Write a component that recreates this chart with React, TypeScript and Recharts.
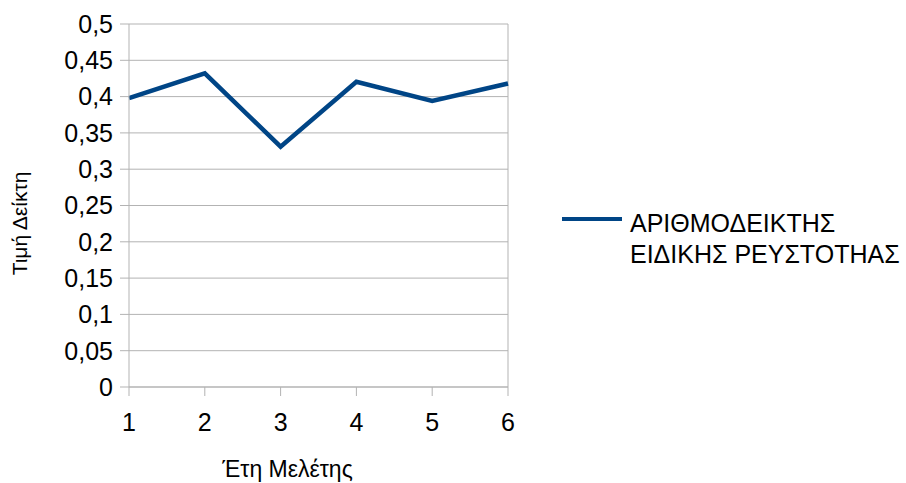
import React from "react";
import {
  LineChart,
  Line,
  XAxis,
  YAxis,
  CartesianGrid,
  ReferenceLine,
} from "recharts";

const years = [1, 2, 3, 4, 5, 6];
const indexValues = [0.398, 0.432, 0.331, 0.4205, 0.394, 0.418];
const yTicks = [0, 0.05, 0.1, 0.15, 0.2, 0.25, 0.3, 0.35, 0.4, 0.45, 0.5];
const seriesName = ["ΑΡΙΘΜΟΔΕΙΚΤΗΣ", "ΕΙΔΙΚΗΣ ΡΕΥΣΤΟΤΗΑΣ"];

const data = years.map((y, i) => ({ year: y, value: indexValues[i] }));

const FONT = "'Liberation Sans', Arial, sans-serif";
const GRID = "#b3b3b3";
const LINE = "#004586";

const fmt = (v: number) => String(v).replace(".", ",");

// legend drawn beside the chart, like the office export
function LegendBox() {
  return (
    <svg
      width={346}
      height={80}
      style={{ position: "absolute", left: 560, top: 200 }}
    >
      <line x1={2} y1={19} x2={62} y2={19} stroke={LINE} strokeWidth={4} />
      {seriesName.map((s, i) => (
        <text
          key={s}
          x={70}
          y={32 + i * 31}
          fontSize={25}
          fontFamily={FONT}
          fill="#000"
        >
          {s}
        </text>
      ))}
    </svg>
  );
}

export default function App() {
  return (
    <div
      style={{
        position: "absolute",
        left: 0,
        top: 0,
        width: 906,
        height: 483,
        background: "#fff",
      }}
    >
      <LineChart
        width={906}
        height={483}
        data={data}
        margin={{ top: 24, right: 398, bottom: 0, left: 0 }}
      >
        <CartesianGrid vertical={false} stroke={GRID} />
        <ReferenceLine x={6} stroke={GRID} />
        <XAxis
          dataKey="year"
          type="number"
          domain={[1, 6]}
          ticks={years}
          height={96}
          stroke={GRID}
          tickSize={9}
          tickMargin={17}
          tick={{ fill: "#000", fontSize: 25, fontFamily: FONT }}
          label={{
            value: "Έτη Μελέτης",
            position: "insideBottom",
            offset: 6,
            dx: -31,
            fill: "#000",
            fontSize: 23,
            fontFamily: FONT,
          }}
        />
        <YAxis
          domain={[0, 0.5]}
          ticks={yTicks}
          width={129}
          stroke={GRID}
          tickSize={9}
          tickMargin={7}
          tickFormatter={fmt}
          tick={{ fill: "#000", fontSize: 25, fontFamily: FONT }}
          label={{
            value: "Τιμή Δείκτη",
            angle: -90,
            position: "insideLeft",
            offset: 20,
            dy: 18,
            fill: "#000",
            fontSize: 21,
            fontFamily: FONT,
            style: { textAnchor: "middle" },
          }}
        />
        <Line
          dataKey="value"
          stroke={LINE}
          strokeWidth={4.5}
          dot={false}
          isAnimationActive={false}
          strokeLinejoin="miter"
        />
      </LineChart>
      <LegendBox />
    </div>
  );
}
